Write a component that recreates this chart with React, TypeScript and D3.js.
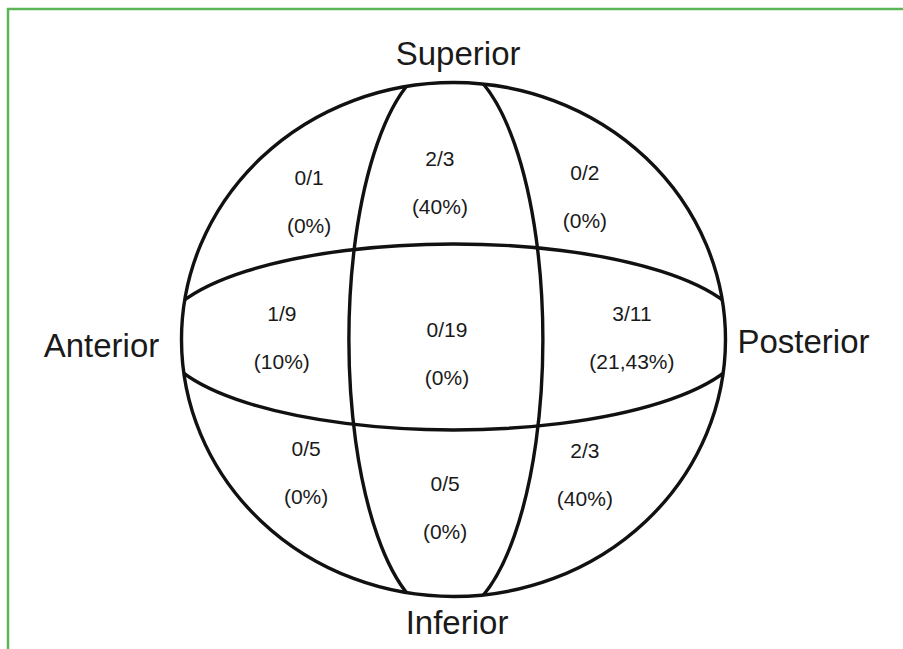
import React from "react";
import * as d3 from "d3";

// counts per region of the sphere (positive / total) and the printed percentage
const regionKeys = ["supAnt", "sup", "supPost", "ant", "center", "post", "infAnt", "inf", "infPost"];
const positives = [0, 2, 0, 1, 0, 3, 0, 0, 2];
const totals = [1, 3, 2, 9, 19, 11, 5, 5, 3];
const percents = ["0%", "40%", "0%", "10%", "0%", "21,43%", "0%", "0%", "40%"];
const axisLabels = ["Superior", "Anterior", "Posterior", "Inferior"];

// label anchors in sphere units (-1..1)
const anchors: Record<string, [number, number]> = {
  supAnt: [-0.531, -0.537],
  sup: [-0.05, -0.609],
  supPost: [0.483, -0.558],
  ant: [-0.631, -0.008],
  center: [-0.024, 0.053],
  post: [0.656, -0.006],
  infAnt: [-0.542, 0.518],
  inf: [-0.031, 0.654],
  infPost: [0.483, 0.527],
};

const W = 903;
const H = 649;
const cx = 453.5;
const cy = 339.5;
const rx = 272;
const ry = 257;

export default function App() {
  const x = d3.scaleLinear().domain([-1, 1]).range([cx - rx, cx + rx]);
  const y = d3.scaleLinear().domain([-1, 1]).range([cy - ry, cy + ry]);

  const stroke = "#111";
  const sw = 3.4;
  const font = "'Liberation Sans', Arial, sans-serif";

  const regions = regionKeys.map((k, i) => ({
    key: k,
    frac: positives[i] + "/" + totals[i],
    pct: "(" + percents[i] + ")",
    pos: anchors[k],
  }));

  return (
    <svg
      width={W}
      height={H}
      style={{ position: "absolute", left: 0, top: 0, background: "#fff" }}
    >
      <defs>
        <clipPath id="sphere">
          <ellipse cx={x(0)} cy={y(0)} rx={rx} ry={ry} />
        </clipPath>
      </defs>
      {/* green frame (top and left only) */}
      <line x1={7} y1={9} x2={W} y2={9} stroke="#5db55a" strokeWidth={2.5} />
      <line x1={8} y1={8} x2={8} y2={H} stroke="#5db55a" strokeWidth={2.5} />

      <g clipPath="url(#sphere)" fill="none" stroke={stroke} strokeWidth={sw}>
        {/* equator */}
        <ellipse cx={x(0)} cy={y(-0.01)} rx={293} ry={93} />
        {/* meridian */}
        <ellipse cx={x(-0.028)} cy={y(0)} rx={97} ry={277} />
      </g>
      <ellipse
        cx={x(0)}
        cy={y(0)}
        rx={rx}
        ry={ry}
        fill="none"
        stroke={stroke}
        strokeWidth={sw}
      />

      <g fontFamily={font} fontSize={21} fill="#1a1a1a" textAnchor="middle">
        {regions.map((r) => (
          <g key={r.key}>
            <text x={x(r.pos[0])} y={y(r.pos[1]) - 24} dominantBaseline="central">
              {r.frac}
            </text>
            <text x={x(r.pos[0])} y={y(r.pos[1]) + 24} dominantBaseline="central">
              {r.pct}
            </text>
          </g>
        ))}
      </g>

      <g fontFamily={font} fontSize={33} fill="#1a1a1a" textAnchor="middle">
        <text x={x(0.017)} y={y(-1) - 18}>{axisLabels[0]}</text>
        <text x={x(-1) - 80} y={y(0) + 17}>{axisLabels[1]}</text>
        <text x={x(1) + 78} y={y(0) + 13}>{axisLabels[2]}</text>
        <text x={x(0.013)} y={y(1) + 37}>{axisLabels[3]}</text>
      </g>
    </svg>
  );
}
